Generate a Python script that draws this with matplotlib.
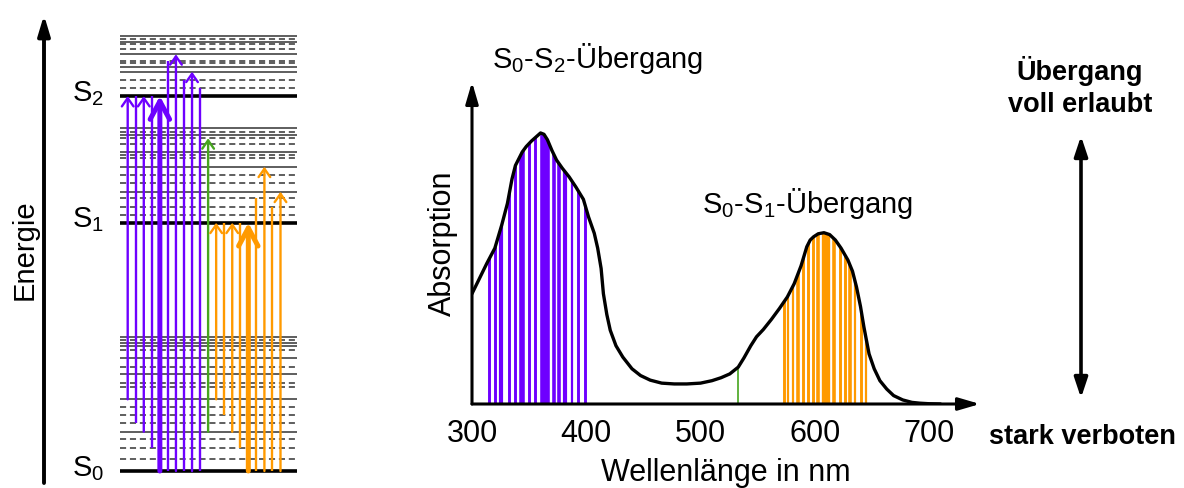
import numpy as np
import matplotlib.pyplot as plt
from matplotlib.patches import Polygon

plt.rcParams['font.family'] = ['Liberation Sans', 'DejaVu Sans']
plt.rcParams['mathtext.default'] = 'regular'

W, H = 1184, 488

# --- absorption spectrum ---
wavelength = [300, 305, 313, 320, 326, 331, 335, 338, 341, 344, 347.5, 352, 356, 360,
              363, 366, 370, 374, 379, 385, 391, 397.5, 402, 407, 410, 413, 415, 418,
              421, 426, 432, 440, 447.5, 456, 466, 477, 488, 500, 510, 518, 525.6, 533,
              538, 544, 549, 555, 562, 569, 576, 582, 588, 593, 596, 599, 603, 608, 613,
              618, 623, 629, 633, 636.5, 640, 643, 647.5, 652, 657, 663, 669, 677, 685,
              692, 700, 710]
absorption = [0.407, 0.45, 0.519, 0.575, 0.66, 0.74, 0.83, 0.88, 0.905, 0.93, 0.95, 0.97,
              0.985, 1.0, 0.995, 0.975, 0.935, 0.9, 0.87, 0.838, 0.8, 0.755, 0.69, 0.63,
              0.575, 0.5, 0.407, 0.33, 0.272, 0.215, 0.173, 0.13, 0.105, 0.088, 0.077,
              0.074, 0.074, 0.077, 0.086, 0.097, 0.111, 0.136, 0.17, 0.215, 0.248, 0.275,
              0.312, 0.352, 0.395, 0.444, 0.51, 0.58, 0.605, 0.617, 0.628, 0.632, 0.625,
              0.605, 0.575, 0.531, 0.49, 0.432, 0.36, 0.284, 0.185, 0.13, 0.086, 0.055,
              0.031, 0.015, 0.006, 0.003, 0.001, 0.0]
tick_nm = [300, 400, 500, 600, 700]

# single transitions drawn under the bands (nm)
s2_band_nm = [314.6, 319.9, 325.6, 332.1, 337.4, 343.8, 349.6, 354.9, 363.6, 371.5,
              376.1, 381.7, 387.3, 392.8, 398.6]
s2_band_lw = [2.1, 2.1, 3.0, 2.1, 2.1, 4.0, 2.1, 2.1, 6.9, 2.6, 2.6, 3.0, 1.6, 2.1, 2.1]
s1_band_nm = [573.1, 576.9, 581, 585.6, 590, 594.1, 598.2, 603.1, 609.8, 617.1, 622.1,
              626.2, 631.1, 635.2, 640.2, 644.6]
s1_band_lw = [2.1, 1.6, 1.6, 2.6, 2.1, 2.1, 2.1, 2.6, 6.0, 2.6, 2.1, 2.1, 2.6, 1.6, 2.1, 1.6]
weak_nm = [532.5]

# --- energy level diagram (arbitrary energy units) ---
E_S0, E_S1, E_S2 = 0.0, 2.483, 3.75
s0_solid = [0.393, 0.717, 0.97, 1.127, 1.25, 1.283, 1.337]
s0_dashed = [0.117, 0.227, 0.317, 0.483, 0.56, 0.643, 0.843, 0.883, 1.043, 1.21, 1.31]
s1_solid = [0.31, 0.56, 0.71, 0.877, 0.944]
s1_dashed = [0.077, 0.16, 0.244, 0.394, 0.477, 0.644, 0.677, 0.787, 0.844, 0.91]
s2_solid = [0.243, 0.287, 0.417, 0.543, 0.6]
s2_dashed = [0.077, 0.16, 0.327, 0.353, 0.467, 0.52, 0.567]

trans_lower = [0.717, 0.483, 0.393, 0.227, 0, 0, 0, 0, 0, 0,
               0.393,
               0.717, 0.56, 0.393, 0.227, 0, 0, 0, 0, 0]
trans_upper = [3.75, 3.75, 3.75, 3.75, 3.75, 4.103, 4.167, 3.91, 3.993, 3.827,
               3.327,
               2.483, 2.483, 2.483, 2.483, 2.483, 2.727, 3.043, 2.643, 2.793]
trans_kind = ['S2'] * 10 + ['weak'] + ['S1'] * 9
trans_head = [1, 0, 1, 0, 2, 0, 1, 0, 1, 0,
              1,
              1, 0, 1, 0, 2, 0, 1, 0, 1]

PURPLE = '#6E00FF'
ORANGE = '#FF9A00'
GREEN = '#46A51E'
kind_color = {'S2': PURPLE, 'weak': GREEN, 'S1': ORANGE}

fig = plt.figure(figsize=(W / 100, H / 100), dpi=100)
fig.patch.set_facecolor('white')

# ---------------- left: Jablonski diagram ----------------
axL = fig.add_axes([0, 0, 310 / W, 1])
axL.set_xlim(-15.88, 22.67)
axL.set_ylim(-0.17, 4.71)
axL.axis('off')

lx0, lx1 = -0.95, 21.05
for base, solid, dashed in [(E_S0, s0_solid, s0_dashed),
                            (E_S1, s1_solid, s1_dashed),
                            (E_S2, s2_solid, s2_dashed)]:
    axL.hlines([base + v for v in solid], lx0, lx1, color='#333333', lw=1.1)
    axL.hlines([base + v for v in dashed], lx0, lx1, color='#333333', lw=1.1,
               linestyles=[(0, (4, 2.5))])
axL.hlines([E_S0, E_S1, E_S2], lx0, lx1, color='black', lw=2.6)

for i, (lo, hi, kind, head) in enumerate(zip(trans_lower, trans_upper, trans_kind, trans_head)):
    col = kind_color[kind]
    lw = 3.6 if head == 2 else 1.7
    if head == 0:
        axL.plot([i, i], [lo, hi], color=col, lw=lw, solid_capstyle='butt')
    else:
        if head == 2:
            style = '->,head_length=1.3,head_width=0.7'
        else:
            style = '->,head_length=0.6,head_width=0.42'
        axL.annotate('', xy=(i, hi), xytext=(i, lo),
                     arrowprops=dict(arrowstyle=style, color=col, lw=lw,
                                     shrinkA=0, shrinkB=0))

for lvl, sub in [(E_S0, '0'), (E_S1, '1'), (E_S2, '2')]:
    axL.text(-6.93, lvl - 0.05, 'S$_{%s}$' % sub, fontsize=21, ha='left', va='baseline')

axL.annotate('', xy=(44, H - 15), xytext=(44, H - 483), xycoords='figure pixels',
             textcoords='figure pixels',
             arrowprops=dict(arrowstyle='-|>,head_length=1.2,head_width=0.36',
                             color='black', lw=2.8, shrinkA=0, shrinkB=0))
fig.text(25 / W, 1 - 250 / H, 'Energie', rotation=90, ha='center', va='center', fontsize=21)

# ---------------- right: absorption spectrum ----------------
axR = fig.add_axes([472 / W, 84 / H, 508 / W, 322 / H])
axR.set_xlim(300, 744.6)
axR.set_ylim(0, 1.188)
for sp in axR.spines.values():
    sp.set_visible(False)
axR.set_xticks(tick_nm)
axR.set_yticks([])
axR.tick_params(axis='x', length=0, pad=11, labelsize=22)
axR.set_xlabel('Wellenlänge in nm', fontsize=22, labelpad=6)
axR.set_ylabel('Absorption', fontsize=22, labelpad=10)

verts = np.column_stack([wavelength + [wavelength[-1], wavelength[0]],
                         absorption + [0, 0]])
under = Polygon(verts, closed=True, transform=axR.transData,
                facecolor='none', edgecolor='none')
axR.add_patch(under)
for pos, widths, col in [(s2_band_nm, s2_band_lw, PURPLE),
                         (s1_band_nm, s1_band_lw, ORANGE),
                         (weak_nm, [1.2], GREEN)]:
    lc = axR.vlines(pos, 0, 1.188, colors=col, linewidths=widths)
    lc.set_clip_path(under)

axR.plot(wavelength, absorption, color='black', lw=2.4, solid_joinstyle='round',
         solid_capstyle='round', zorder=5)

axis_arrow = dict(arrowstyle='-|>,head_length=1.3,head_width=0.38', color='black',
                  lw=2.2, shrinkA=0, shrinkB=0)
axR.annotate('', xy=(1, 0), xytext=(0, 0), xycoords='axes fraction',
             arrowprops=axis_arrow, zorder=6)
axR.annotate('', xy=(0, 1), xytext=(0, 0), xycoords='axes fraction',
             arrowprops=axis_arrow, zorder=6)

axR.text(317.5, 1.24, 'S$_0$-S$_2$-Übergang', fontsize=21, ha='left', va='baseline')
axR.text(501, 0.705, 'S$_0$-S$_1$-Übergang', fontsize=21, ha='left', va='baseline')

# ---------------- far right: allowed / forbidden scale ----------------
fig.text(1080 / W, 1 - 79.5 / H, 'Übergang', ha='center', va='baseline',
         fontsize=19.5, fontweight='bold')
fig.text(1080.5 / W, 1 - 112.5 / H, 'voll erlaubt', ha='center', va='baseline',
         fontsize=19.5, fontweight='bold')
fig.text(1082 / W, 1 - 444 / H, 'stark verboten', ha='center', va='baseline',
         fontsize=19.5, fontweight='bold')
axR.annotate('', xy=(1081, H - 136), xytext=(1081, H - 398), xycoords='figure pixels',
             textcoords='figure pixels', annotation_clip=False,
             arrowprops=dict(arrowstyle='<|-|>,head_length=1.2,head_width=0.4',
                             color='black', lw=2.6, shrinkA=0, shrinkB=0))

fig.savefig('out.png', dpi=100)
